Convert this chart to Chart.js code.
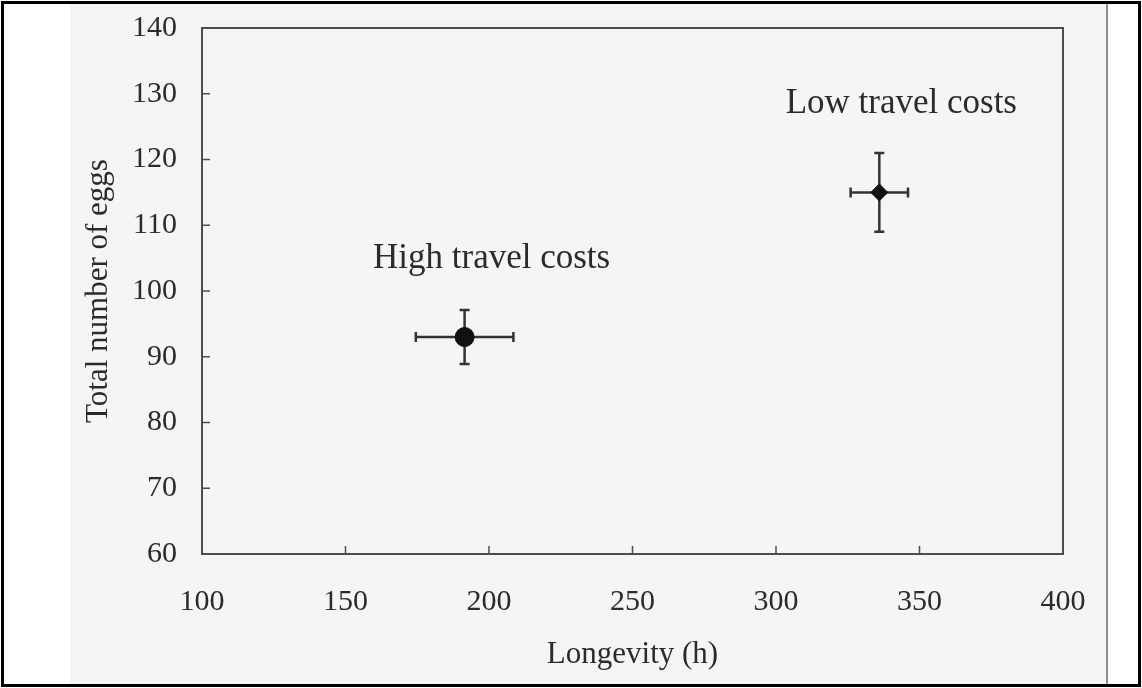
<!DOCTYPE html>
<html>
<head>
<meta charset="utf-8">
<script src="https://cdn.jsdelivr.net/npm/chart.js@4.4.1/dist/chart.umd.min.js"></script>
<style>
  html, body { margin: 0; padding: 0; background: #fff; }
  #frame {
    position: absolute; left: 1px; top: 1px; width: 1134px; height: 680px;
    border: 3px solid #000; background: #fff; overflow: hidden;
  }
  #page {
    position: absolute; left: 66px; top: 0; width: 1036px; height: 680px;
    background: #f5f5f5; border-right: 2px solid #8a8a8a;
  }
  #chart { position: absolute; left: 0; top: 0; }
</style>
</head>
<body>
<div id="frame"><div id="page"></div></div>
<canvas id="chart" width="1142" height="688"></canvas>
<script>
// Treatment groups and their mean longevity / egg totals with error ranges
const groups = ['High travel costs', 'Low travel costs'];
const longevity = [191.5, 336];
const longevityErr = [17, 10];
const eggs = [93, 115];
const eggsErr = [4.1, 6];

const xTicks = [100, 150, 200, 250, 300, 350, 400];
const yTicks = [60, 70, 80, 90, 100, 110, 120, 130, 140];

const serif = '"Liberation Serif", "Times New Roman", serif';
const ink = '#2b2b2b';
const axisGray = '#4d4d4d';

// Boxed frame with inward tick marks on the left and bottom axes
const frameBox = {
  id: 'frameBox',
  afterDraw(chart) {
    const { ctx, chartArea: a, scales: { x, y } } = chart;
    ctx.save();
    ctx.strokeStyle = axisGray;
    ctx.lineWidth = 2;
    ctx.strokeRect(a.left, a.top, a.right - a.left, a.bottom - a.top);
    ctx.lineWidth = 1.5;
    ctx.beginPath();
    xTicks.slice(1, -1).forEach(v => {
      const px = x.getPixelForValue(v);
      ctx.moveTo(px, a.bottom);
      ctx.lineTo(px, a.bottom - 8);
    });
    yTicks.slice(1, -1).forEach(v => {
      const py = y.getPixelForValue(v);
      ctx.moveTo(a.left, py);
      ctx.lineTo(a.left + 8, py);
    });
    ctx.stroke();
    ctx.restore();
  }
};

// Horizontal and vertical error bars with end caps
const errorBars = {
  id: 'errorBars',
  beforeDatasetsDraw(chart) {
    const { ctx, scales: { x, y } } = chart;
    ctx.save();
    ctx.strokeStyle = '#333';
    ctx.lineWidth = 2.5;
    const cap = 5;
    longevity.forEach((lx, i) => {
      const cx = x.getPixelForValue(lx);
      const cy = y.getPixelForValue(eggs[i]);
      const x0 = x.getPixelForValue(lx - longevityErr[i]);
      const x1 = x.getPixelForValue(lx + longevityErr[i]);
      const y0 = y.getPixelForValue(eggs[i] - eggsErr[i]);
      const y1 = y.getPixelForValue(eggs[i] + eggsErr[i]);
      ctx.beginPath();
      ctx.moveTo(x0, cy); ctx.lineTo(x1, cy);
      ctx.moveTo(cx, y0); ctx.lineTo(cx, y1);
      ctx.moveTo(x0, cy - cap); ctx.lineTo(x0, cy + cap);
      ctx.moveTo(x1, cy - cap); ctx.lineTo(x1, cy + cap);
      ctx.moveTo(cx - cap, y0); ctx.lineTo(cx + cap, y0);
      ctx.moveTo(cx - cap, y1); ctx.lineTo(cx + cap, y1);
      ctx.stroke();
    });
    ctx.restore();
  }
};

// Group names written above each point
const groupLabels = {
  id: 'groupLabels',
  afterDatasetsDraw(chart, args, opts) {
    const { ctx, scales: { x, y } } = chart;
    ctx.save();
    ctx.fillStyle = ink;
    ctx.font = '35px ' + serif;
    ctx.textAlign = 'center';
    ctx.textBaseline = 'alphabetic';
    groups.forEach((g, i) => {
      const px = x.getPixelForValue(longevity[i]) + opts.offsets[i][0];
      const py = y.getPixelForValue(eggs[i]) + opts.offsets[i][1];
      ctx.fillText(g, px, py);
    });
    ctx.restore();
  }
};

new Chart(document.getElementById('chart'), {
  type: 'scatter',
  data: {
    datasets: [{
      label: 'Treatments',
      data: longevity.map((v, i) => ({ x: v, y: eggs[i] })),
      pointStyle: ['circle', 'rectRot'],
      pointRadius: [9.5, 8.5],
      backgroundColor: '#111',
      borderColor: '#111',
      borderWidth: 1
    }]
  },
  options: {
    responsive: false,
    animation: false,
    events: [],
    layout: { padding: { left: 0, top: 28, right: 79, bottom: 0 } },
    plugins: {
      legend: { display: false },
      tooltip: { enabled: false },
      groupLabels: { offsets: [[27, -69], [22, -79]] }
    },
    scales: {
      x: {
        type: 'linear', position: 'bottom', min: 100, max: 400,
        afterFit(s) { s.height = 134; s.paddingLeft = 0; s.paddingRight = 0; },
        afterBuildTicks(s) { s.ticks = xTicks.map(v => ({ value: v })); },
        border: { display: false },
        grid: { display: false, drawTicks: false },
        ticks: { color: ink, font: { family: serif, size: 30 }, padding: 30, maxRotation: 0 },
        title: { display: true, text: 'Longevity (h)', color: ink,
                 font: { family: serif, size: 31 }, padding: { top: 0, bottom: 15 } }
      },
      y: {
        type: 'linear', position: 'left', min: 60, max: 140,
        afterFit(s) { s.width = 202; s.paddingTop = 0; s.paddingBottom = 0; },
        afterBuildTicks(s) { s.ticks = yTicks.map(v => ({ value: v })); },
        border: { display: false },
        grid: { display: false, drawTicks: false },
        ticks: { color: ink, font: { family: serif, size: 30 }, padding: 25 },
        title: { display: true, text: 'Total number of eggs', color: ink,
                 font: { family: serif, size: 31 }, padding: { top: 80, bottom: 0 } }
      }
    }
  },
  plugins: [frameBox, errorBars, groupLabels]
});
</script>
</body>
</html>
